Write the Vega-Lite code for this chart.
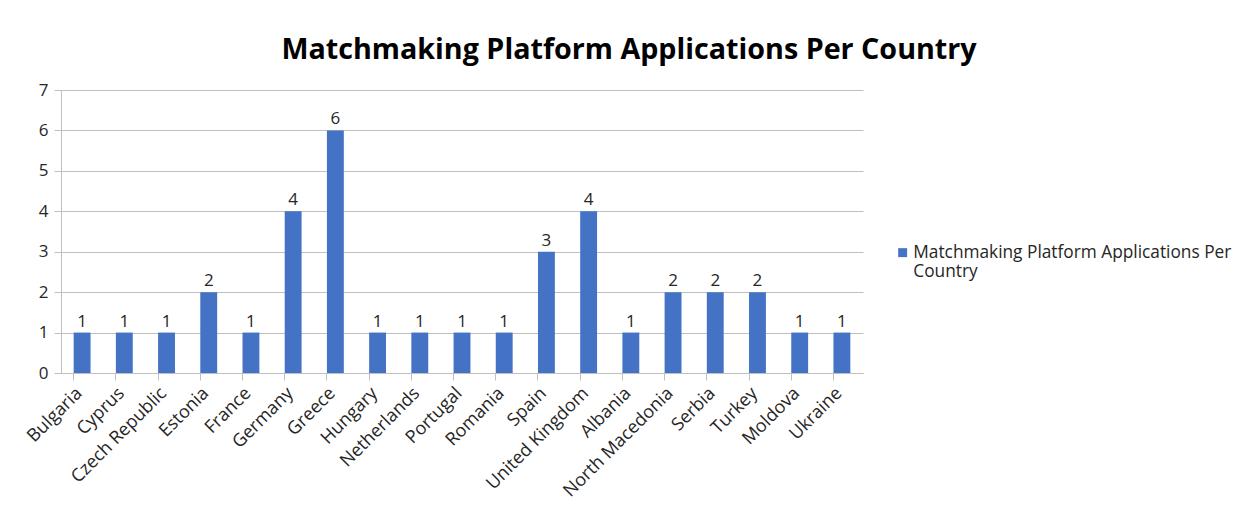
{
  "$schema": "https://vega.github.io/schema/vega-lite/v6.json",
  "width": 802,
  "height": 283,
  "autosize": {"type": "none"},
  "padding": {"left": 61, "top": 90, "right": 390, "bottom": 144},
  "background": "white",
  "title": {
    "text": "Matchmaking Platform Applications Per Country",
    "font": "Open Sans",
    "fontSize": 28.7,
    "fontWeight": "bold",
    "color": "#000000",
    "anchor": "middle",
    "dx": 167,
    "offset": 16
  },
  "data": {
    "values": [
      {"country": "Bulgaria", "count": 1},
      {"country": "Cyprus", "count": 1},
      {"country": "Czech Republic", "count": 1},
      {"country": "Estonia", "count": 2},
      {"country": "France", "count": 1},
      {"country": "Germany", "count": 4},
      {"country": "Greece", "count": 6},
      {"country": "Hungary", "count": 1},
      {"country": "Netherlands", "count": 1},
      {"country": "Portugal", "count": 1},
      {"country": "Romania", "count": 1},
      {"country": "Spain", "count": 3},
      {"country": "United Kingdom", "count": 4},
      {"country": "Albania", "count": 1},
      {"country": "North Macedonia", "count": 2},
      {"country": "Serbia", "count": 2},
      {"country": "Turkey", "count": 2},
      {"country": "Moldova", "count": 1},
      {"country": "Ukraine", "count": 1}
    ]
  },
  "config": {
    "view": {"stroke": null},
    "font": "Open Sans"
  },
  "encoding": {
    "x": {
      "field": "country",
      "type": "nominal",
      "sort": null,
      "title": null,
      "scale": {"paddingInner": 0.6, "paddingOuter": 0.3},
      "axis": {
        "bandPosition": 0,
        "labelOffset": -9,
        "labelAngle": -45,
        "labelAlign": "right",
        "labelBaseline": "top",
        "labelFont": "Open Sans",
        "labelFontSize": 18,
        "labelColor": "#262626",
        "labelPadding": 4,
        "labelLimit": 0,
        "domainColor": "#BFBFBF",
        "tickColor": "#BFBFBF",
        "tickSize": 7,
        "grid": false
      }
    },
    "y": {
      "field": "count",
      "type": "quantitative",
      "title": null,
      "scale": {"domain": [0, 7], "nice": false},
      "axis": {
        "values": [0, 1, 2, 3, 4, 5, 6, 7],
        "labelFont": "Open Sans",
        "labelFontSize": 17,
        "labelColor": "#262626",
        "labelPadding": 6,
        "domainColor": "#BFBFBF",
        "tickColor": "#BFBFBF",
        "tickSize": 7,
        "gridColor": "#BFBFBF",
        "grid": true
      }
    }
  },
  "layer": [
    {
      "mark": {"type": "bar"},
      "encoding": {
        "color": {
          "datum": "Matchmaking Platform Applications Per Country",
          "scale": {"range": ["#4472C4"]},
          "legend": {
            "title": null,
            "orient": "none",
            "legendX": 833,
            "legendY": 154,
            "symbolType": "square",
            "symbolSize": 80,
            "symbolStrokeWidth": 0,
            "labelOffset": 2,
            "labelFont": "Open Sans",
            "labelFontSize": 17.3,
            "labelColor": "#262626",
            "labelLimit": 0,
            "labelExpr": "['Matchmaking Platform Applications Per', 'Country']"
          }
        }
      }
    },
    {
      "mark": {"type": "text", "dy": -11, "font": "Open Sans", "fontSize": 17, "color": "#262626"},
      "encoding": {"text": {"field": "count", "type": "quantitative"}}
    }
  ]
}
